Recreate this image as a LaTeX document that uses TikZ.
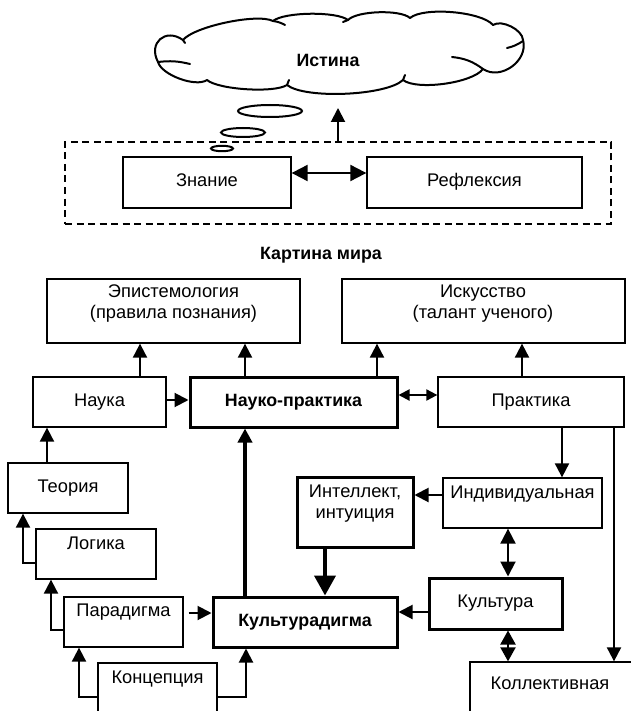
\documentclass[tikz,border=0pt]{standalone}
\usepackage{fontspec}
\setmainfont{Liberation Sans}
\usetikzlibrary{arrows.meta,calc}

\begin{document}
\begin{tikzpicture}[x=1pt,y=-1pt,
  every node/.style={font=\fontsize{18.3}{21}\selectfont},
  strong/.style={font=\fontsize{17.8}{21}\selectfont\bfseries},
  box/.style={draw, line width=1.3pt, inner sep=0pt, text height=13pt, text depth=5pt},
  heavybox/.style={box, line width=3pt},
  txt/.style={inner sep=0pt, anchor=base},
  lines/.style={inner sep=0pt, align=center},
  arr/.style={line width=2pt, -{Triangle[length=14pt,width=14pt]}},
  biarr/.style={line width=2pt, {Triangle[length=15pt,width=15pt]}-{Triangle[length=15pt,width=15pt]}},
  heavyarr/.style={line width=3.5pt, -{Triangle[length=14pt,width=14pt]}},
  puff/.style={to path={.. controls ($(\tikztostart)!0.15!(\tikztotarget)!#1!90:(\tikztotarget)$)
      and ($(\tikztotarget)!0.15!(\tikztostart)!#1!-90:(\tikztostart)$) .. (\tikztotarget)}},
]
\useasboundingbox (0,0) rectangle (630,711);

% the cloud of truth
\draw[line width=2pt, line join=round]
  (183,40) to[puff=11pt] (273,21) to[puff=9pt] (348,20) to[puff=9pt] (410,18)
  to[puff=12.5pt] (493,25) to[puff=9pt] (523,40) to[puff=20pt] (483,69)
  to[puff=12.5pt] (403,80) to[puff=15pt] (287,85) to[puff=9pt] (207,80)
  to[puff=11pt] (158,62) to[puff=21pt] (183,40) -- cycle;
\draw[line width=2pt, line cap=round]
  (158,62) to[bend left=10] (190,64)
  (273,21) to[bend left=10] (285,25)
  (523,41) to[bend left=10] (507,48)
  (483,69) to[bend right=15] (452,57)
  (183,40) -- (185,43)
  (348,20) -- (343,22)
  (403,80) -- (405,75)
  (287,85) -- (289,80);
\node[txt, strong] (truth) at (328,67) {Истина};

% thought bubbles
\draw[line width=2pt] (270,111) ellipse [x radius=32, y radius=6];
\draw[line width=2pt] (243,132.5) ellipse [x radius=22, y radius=4.5];
\draw[line width=2pt] (222,148.5) ellipse [x radius=11, y radius=2.7];

% world picture frame
\node[draw, line width=1.5pt, dash pattern=on 7pt off 4.5pt, inner sep=0pt,
      minimum width=546pt, minimum height=82pt] (frame) at (338,183) {};
\node[box, minimum width=168pt, minimum height=51pt] (znanie) at (207,182.5) {Знание};
\node[box, minimum width=215pt, minimum height=51pt] (refl) at (474.5,182.5) {Рефлексия};
\coordinate (cloudbase) at (338,108);
\node[txt, strong] (worldview) at (321,259) {Картина мира};

% upper row
\node[box, minimum width=253pt, minimum height=64pt] (epist) at (173.5,311) {};
\node[lines] (epistlbl) at (173.5,304) {Эпистемология\\(правила познания)};
\node[box, minimum width=283pt, minimum height=64pt] (iskus) at (483.5,311) {};
\node[lines] (iskuslbl) at (483,304) {Искусство\\(талант ученого)};

\node[box, minimum width=133pt, minimum height=50pt] (nauka) at (99.5,402) {Наука};
\node[heavybox, strong, minimum width=207pt, minimum height=50pt] (np) at (293.5,402) {Науко-практика};
\node[box, minimum width=186pt, minimum height=50pt] (prakt) at (531,402) {Практика};

% left staircase
\node[box, minimum width=120pt, minimum height=50pt] (teoria) at (68,488) {Теория};
\node[box, minimum width=120pt, minimum height=50pt] (logika) at (96,554) {};
\node[txt] (logikalbl) at (96,549) {Логика};
\node[box, minimum width=119pt, minimum height=50pt] (parad) at (123.5,622) {};
\node[txt] (paradlbl) at (123.5,616) {Парадигма};
\node[box, minimum width=119pt, minimum height=50pt] (konc) at (157.5,688) {};
\node[txt] (konclbl) at (157.5,683) {Концепция};

% centre and right
\node[heavybox, strong, minimum width=184pt, minimum height=50pt] (kultp) at (305,622) {Культурадигма};
\node[heavybox, minimum width=116pt, minimum height=70pt] (intel) at (355,512) {};
\node[lines] (intellbl) at (355,504) {Интеллект,\\интуиция};
\node[box, minimum width=159pt, minimum height=50pt] (indiv) at (522.5,503) {};
\node[txt] (indivlbl) at (522.5,498) {Индивидуальная};
\node[heavybox, minimum width=133pt, minimum height=51pt] (kult) at (495.5,603.5) {Культура};
\node[box, minimum width=170pt, minimum height=50pt] (koll) at (555,687) {};
\node[txt] (kolllbl) at (550,689) {Коллективная};

% connectors
\draw[arr] (frame.north) -- (cloudbase);
\draw[line width=2pt, {Triangle[length=16pt,width=16pt]}-{Triangle[length=16pt,width=16pt]}]
  (znanie.east |- 0,173) -- (refl.west |- 0,173);

\draw[arr] (nauka.north -| 140,0) -- (epist.south -| 140,0);
\draw[arr] (np.north -| 245,0) -- (epist.south -| 245,0);
\draw[arr] (np.north -| 377,0) -- (iskus.south -| 377,0);
\draw[arr] (prakt.north -| 522,0) -- (iskus.south -| 522,0);
\draw[arr] (nauka.east |- 0,400) -- (np.west |- 0,400);
\draw[line width=2pt, {Triangle[length=11pt,width=11pt]}-{Triangle[length=11pt,width=11pt]}]
  (np.east |- 0,395) -- (prakt.west |- 0,395);

\draw[arr] (teoria.north -| 47,0) -- (nauka.south -| 47,0);
\draw[arr] (logika.west |- 0,563) -| (teoria.south -| 23,0);
\draw[arr] (parad.west |- 0,630) -| (logika.south -| 51,0);
\draw[arr] (konc.west |- 0,697) -| (parad.south -| 79,0);
\draw[arr] (konc.east |- 0,697) -| (kultp.south -| 246,0);
\draw[arr, shorten <=5pt] (parad.east |- 0,613) -- (kultp.west |- 0,613);

\draw[heavyarr] (kultp.north -| 245,0) -- (np.south -| 245,0);
\draw[line width=4pt, -{Triangle[length=20pt,width=21pt]}] (intel.south -| 325,0) -- (kultp.north -| 325,0);
\draw[arr] (indiv.west |- 0,495) -- (intel.east |- 0,495);
\draw[arr] (prakt.south -| 562,0) -- (indiv.north -| 562,0);
\draw[arr] (prakt.south -| 614,0) -- (koll.north -| 614,0);
\draw[biarr] (indiv.south -| 508,0) -- (kult.north -| 508,0);
\draw[arr] (kult.west |- 0,612) -- (kultp.east |- 0,612);
\draw[line width=2pt, {Triangle[length=14pt,width=15pt]}-{Triangle[length=14pt,width=15pt]}]
  (kult.south -| 508,0) -- (koll.north -| 508,0);
\end{tikzpicture}
\end{document}
